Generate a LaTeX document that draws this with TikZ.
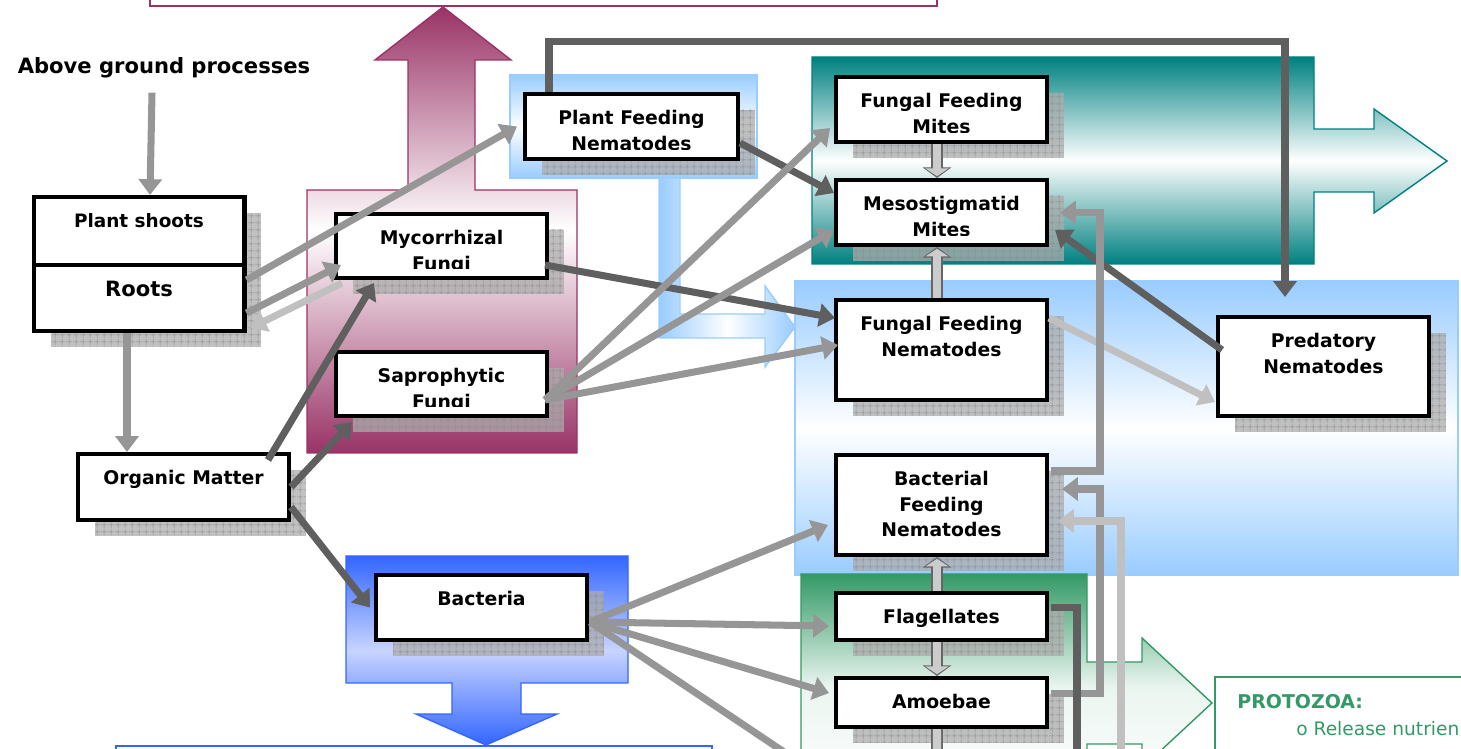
\documentclass[tikz,border=0pt]{standalone}
\usepackage{fontspec}
\setmainfont{DejaVu Sans}
\usetikzlibrary{arrows.meta,calc,shadows,patterns.meta}

\definecolor{webpurple}{RGB}{153,51,102}
\definecolor{webteal}{RGB}{0,128,128}
\definecolor{weblblue}{RGB}{153,204,255}
\definecolor{webblue}{RGB}{51,102,255}
\definecolor{webbluelt}{RGB}{200,212,255}
\definecolor{webgreen}{RGB}{51,153,102}
\definecolor{arrmid}{RGB}{150,150,150}
\definecolor{arrdark}{RGB}{95,95,95}
\definecolor{arrlight}{RGB}{192,192,192}

\tikzset{
  orgbox/.style={draw=black, line width=2.3pt, fill=white, minimum width=4.22cm, inner sep=0pt,
    general shadow={draw=none, fill=gray!65, fill opacity=0.75, shadow xshift=0.34cm, shadow yshift=-0.32cm},
    general shadow={draw=none, pattern={Hatch[angle=0,distance=4pt,line width=0.35pt]}, pattern color=gray!90,
      shadow xshift=0.34cm, shadow yshift=-0.32cm}},
  orgtext/.style={font=\fontsize{10.7}{14.6}\selectfont\bfseries, align=center, inner sep=0pt, anchor=north},
  cut/.style={fill=white},
  feed/.style={line width=4pt, -{Triangle[length=9pt,width=13pt]}},
  midarrow/.style={feed, draw=arrmid},
  darkarrow/.style={feed, draw=arrdark},
  lightarrow/.style={feed, draw=arrlight},
  hollow/.style={draw=gray!40, line width=4.6pt, -{Triangle[length=4.4pt,width=13pt]}, shorten >=1pt,
    preaction={draw=black!60, line width=6.8pt, -{Triangle[length=6pt,width=16pt]}, shorten >=0pt}},
  band/.style={line width=0.8pt}
}

\begin{document}
\begin{tikzpicture}[x=0.02cm, y=-0.02cm]
  \useasboundingbox (0,0) rectangle (1461,749);
  \clip (0,0) rectangle (1461,749);

  % coloured groups in the back
  \draw[band, draw=webpurple, fill=white] (150,-20) rectangle (937,6);
  \draw[band, draw=webpurple, top color=webpurple, bottom color=webpurple, middle color=white]
    (307,190) -- (408,190) -- (408,60) -- (375,60) -- (443,7) -- (511,60) -- (475,60)
    -- (475,190) -- (577,190) -- (577,453) -- (307,453) -- cycle;
  \draw[band, draw=weblblue, top color=weblblue, bottom color=weblblue, middle color=white]
    (510,75) rectangle (757,178);
  \draw[band, draw=weblblue, left color=weblblue, right color=weblblue, middle color=white]
    (659,178) -- (680,178) -- (680,314) -- (765,314) -- (765,286) -- (795,327)
    -- (765,367) -- (765,338) -- (659,338) -- cycle;
  \draw[band, draw=webteal, top color=webteal, bottom color=webteal, middle color=white]
    (812,57) -- (1314,57) -- (1314,129) -- (1374,129) -- (1374,109) -- (1447,161)
    -- (1374,213) -- (1374,192) -- (1314,192) -- (1314,264) -- (812,264) -- cycle;
  \draw[band, draw=weblblue, top color=weblblue, bottom color=weblblue, middle color=white]
    (795,281) rectangle (1458,575);
  \draw[band, draw=webblue, top color=webblue, bottom color=webblue, middle color=webbluelt]
    (346,556) -- (628,556) -- (628,683) -- (521,683) -- (521,714) -- (557,714) -- (486,745)
    -- (416,714) -- (452,714) -- (452,683) -- (346,683) -- cycle;
  \draw[band, draw=webblue, fill=white] (116,746) rectangle (712,800);
  \draw[band, draw=webgreen, top color=webgreen, bottom color=white, middle color=webgreen!10]
    (801,574) -- (1087,574) -- (1087,662) -- (1142,662) -- (1142,638) -- (1212,703)
    -- (1142,768) -- (1142,744) -- (1087,744) -- (1087,800) -- (801,800) -- cycle;
  \draw[band, draw=webgreen, fill=white] (1215,677) rectangle (1500,800);

  % organisms
  \node[font=\fontsize{12}{14}\selectfont\bfseries, inner sep=0pt] (above) at (164,68) {Above ground processes};
  \node[orgbox, minimum height=1.36cm] (shoots) at (139,231) {};
  \node[orgbox, minimum height=1.32cm] (roots) at (139,298) {};
  \node[orgbox, minimum height=1.28cm] (myc) at (441.5,246) {};
  \node[orgbox, minimum height=1.28cm] (sap) at (441.5,384) {};
  \node[orgbox, minimum height=1.32cm] (om) at (183.5,487) {};
  \node[orgbox, minimum height=1.3cm] (bac) at (481.5,607.5) {};
  \node[orgbox, minimum height=1.3cm, minimum width=4.26cm] (pfn) at (631.5,126.5) {};
  \node[orgbox, minimum height=1.3cm] (ffm) at (941.5,109.5) {};
  \node[orgbox, minimum height=1.3cm] (meso) at (941.5,212.5) {};
  \node[orgbox, minimum height=2cm] (ffn) at (941.5,350) {};
  \node[orgbox, minimum height=1.98cm] (pred) at (1323.5,366.5) {};
  \node[orgbox, minimum height=2cm] (bfn) at (941.5,505) {};
  \node[orgbox, minimum height=0.94cm] (flag) at (941.5,616.5) {};
  \node[orgbox, minimum height=0.98cm] (amo) at (941.5,702.5) {};

  % labels, set from the top of each box
  \node[orgtext, font=\fontsize{10.5}{14}\selectfont\bfseries] (shoots-t) at ([yshift=-0.36cm]shoots.north) {Plant shoots};
  \node[orgtext, font=\fontsize{12}{14}\selectfont\bfseries] (roots-t) at ([yshift=-0.36cm]roots.north) {Roots};
  \node[orgtext] (myc-t) at ([yshift=-0.36cm]myc.north) {Mycorrhizal\\Fungi};
  \node[orgtext] (sap-t) at ([yshift=-0.36cm]sap.north) {Saprophytic\\Fungi};
  \node[orgtext] (om-t) at ([yshift=-0.36cm]om.north) {Organic Matter};
  \node[orgtext] (bac-t) at ([yshift=-0.36cm]bac.north) {Bacteria};
  \node[orgtext] (pfn-t) at ([yshift=-0.36cm]pfn.north) {Plant Feeding\\Nematodes};
  \node[orgtext] (ffm-t) at ([yshift=-0.36cm]ffm.north) {Fungal Feeding\\Mites};
  \node[orgtext] (meso-t) at ([yshift=-0.36cm]meso.north) {Mesostigmatid\\Mites};
  \node[orgtext] (ffn-t) at ([yshift=-0.36cm]ffn.north) {Fungal Feeding\\Nematodes};
  \node[orgtext] (pred-t) at ([yshift=-0.36cm]pred.north) {Predatory\\Nematodes};
  \node[orgtext] (bfn-t) at ([yshift=-0.36cm]bfn.north) {Bacterial\\Feeding\\Nematodes};
  \node[orgtext] (flag-t) at ([yshift=-0.36cm]flag.north) {Flagellates};
  \node[orgtext] (amo-t) at ([yshift=-0.36cm]amo.north) {Amoebae};

  % second lines run into the bottom of the box
  \fill[cut] ($(myc.south west)+(4,-4)$) rectangle ($(myc.south east)+(-4,-11)$);
  \fill[cut] ($(sap.south west)+(4,-4)$) rectangle ($(sap.south east)+(-4,-11)$);
  \fill[cut] ($(pfn.south west)+(4,-4)$) rectangle ($(pfn.south east)+(-4,-11)$);
  \fill[cut] ($(ffm.south west)+(4,-4)$) rectangle ($(ffm.south east)+(-4,-11)$);
  \fill[cut] ($(meso.south west)+(4,-4)$) rectangle ($(meso.south east)+(-4,-11)$);

  % protozoa note
  \node[anchor=base west, inner sep=0pt, text=webgreen, font=\fontsize{10.8}{13}\selectfont\bfseries] (proto-t) at (1237,708) {PROTOZOA:};
  \node[anchor=base west, inner sep=0pt, text=webgreen, font=\fontsize{10.6}{12}\selectfont] (proto-b) at (1296,735) {o Release nutrien};

  % free ends below the picture
  \coordinate (lbelow) at (1121,760);
  \coordinate (dbelow) at (1077,760);
  \coordinate (bbelow) at (796,760);
  \coordinate (hbelow) at (937,760);

  % feeding links
  \draw[midarrow] ($(above.south)+(-12,14)$) -- ($(shoots.north)+(11,0)$);
  \draw[midarrow] ($(roots.north east)+(0,17)$) -- ($(pfn.west)+(-6,0)$);
  \draw[midarrow] ($(roots.south east)+(0,-20)$) -- ($(myc.south west)+(7,-15)$);
  \draw[lightarrow] ($(myc.south west)+(8,3)$) -- ($(roots.south east)+(4,-5)$);
  \draw[midarrow] ($(roots.south)+(-12,0)$) -- ($(om.north)+(-56.5,0)$);
  \draw[darkarrow] ($(om.north east)+(-23,8)$) -- ($(myc.south west)+(40,3)$);
  \draw[darkarrow] (om.east) -- ($(sap.south west)+(18,4)$);
  \draw[darkarrow] ($(om.east)+(0,20)$) -- ($(bac.west)+(-4,0)$);
  \draw[darkarrow] ($(pfn.east)+(0,16.5)$) -- ($(meso.west)+(0,-19.5)$);
  \draw[darkarrow] ($(pfn.north west)+(26,0)$) -- ++(0,-50) -| ($(pred.north west)+(69,-18)$);
  \draw[darkarrow] ($(myc.east)+(-4,19)$) -- ($(ffn.north west)+(1,20)$);
  \draw[midarrow] ($(sap.east)+(-4,16)$) -- ($(ffm.west)+(-4,18.5)$);
  \draw[midarrow] ($(sap.east)+(-4,16)$) -- ($(meso.west)+(0,17.5)$);
  \draw[midarrow] ($(sap.east)+(-4,16)$) -- ($(ffn.west)+(4,-5)$);
  \draw[hollow] ([xshift=-0.09cm]ffm.south) -- ([xshift=-0.09cm]meso.north);
  \draw[hollow] ([xshift=-0.09cm]ffn.north) -- ([xshift=-0.09cm]meso.south);
  \draw[darkarrow] ($(pred.west)+(6,-16.5)$) -- ($(meso.east)+(6,17.5)$);
  \draw[lightarrow] ($(ffn.north east)+(0,20)$) -- ($(pred.south west)+(-1,-16)$);
  \draw[midarrow] ($(bfn.north east)+(2,18)$) -- ++(49,0) |- ($(meso.east)+(11,0)$);
  \draw[midarrow] ($(amo.north east)+(2,18)$) -- ++(49,0) |- ($(bfn.north east)+(13,36)$);
  \draw[lightarrow] (lbelow) |- ($(bfn.north east)+(9,68)$);
  \draw[darkarrow, -] ($(flag.north east)+(2,17)$) -| (dbelow);
  \draw[midarrow] ($(bac.east)+(1,14.5)$) -- ($(bfn.west)+(-6,20)$);
  \draw[midarrow] ($(bac.east)+(1,14.5)$) -- ($(flag.west)+(-5,9.5)$);
  \draw[midarrow] ($(bac.east)+(1,14.5)$) -- ($(amo.west)+(-5,-9.5)$);
  \draw[midarrow, -] ($(bac.east)+(1,14.5)$) -- (bbelow);
  \draw[hollow] ([xshift=-0.09cm]flag.north) -- ([xshift=-0.09cm]bfn.south);
  \draw[hollow] ([xshift=-0.09cm]flag.south) -- ([xshift=-0.09cm]amo.north);
  \draw[hollow, -] ([xshift=-0.09cm]amo.south) -- (hbelow);
\end{tikzpicture}
\end{document}
